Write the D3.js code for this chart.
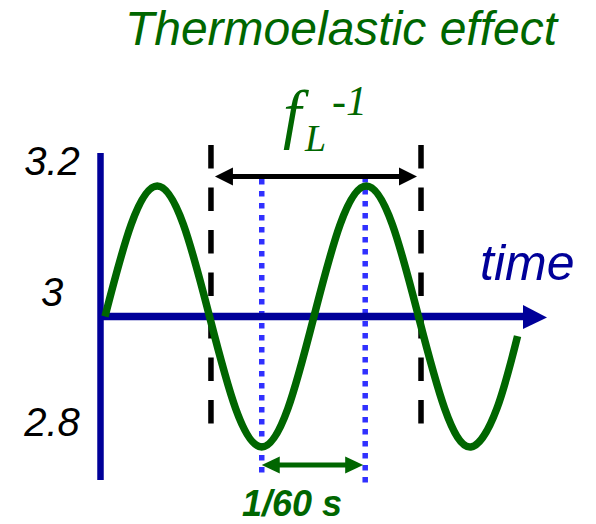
<!DOCTYPE html>
<html>
<head>
<meta charset="utf-8">
<script src="https://cdn.jsdelivr.net/npm/d3@7"></script>
<style>
  html, body { margin: 0; padding: 0; background: #fff; }
  svg { display: block; }
</style>
</head>
<body>
<svg id="chart" width="596" height="524"></svg>
<script>
// ---- data (time in ms, signal value) ----
const timesMs = [0, 4.17, 8.33, 12.5, 16.67, 20.83, 25, 29.17, 33.33, 37.5, 41.67, 45.83, 50, 54.17, 58.33, 62.5, 65.8];
const signal  = [3, 3.141, 3.2, 3.141, 3, 2.859, 2.8, 2.859, 3, 3.141, 3.2, 3.141, 3, 2.859, 2.8, 2.859, 2.97];
const yTickValues = [3.2, 3, 2.8];
const yTickLabels = ["3.2", "3", "2.8"];
const periodMarksMs = [16.9, 50.4];     // dashed lines: one full period f_L^-1
const halfPeriodMarksMs = [25, 41.5];    // dotted lines: trough to peak, 1/60 s
const titleText = "Thermoelastic effect";
const xAxisLabel = "time";
const halfPeriodLabel = "1/60 s";

const green = "#006600", navy = "#000099", dotBlue = "#3030ff";

const svg = d3.select("#chart");
const x = d3.scaleLinear().domain([0, 70]).range([105, 105 + 70 * 6.27]);
const y = d3.scaleLinear().domain([2.8, 3.2]).range([447, 186]);

const fontSans = "'Liberation Sans', Arial, sans-serif";
const fontSerif = "'Liberation Serif', 'Times New Roman', serif";

// title
svg.append("text").attr("x", 341).attr("y", 45).attr("text-anchor", "middle")
  .attr("font-family", fontSans).attr("font-style", "italic").attr("font-size", 48)
  .attr("fill", green).text(titleText);

// dashed period lines
svg.selectAll("line.period").data(periodMarksMs).join("line").attr("class", "period")
  .attr("x1", d => x(d)).attr("x2", d => x(d)).attr("y1", 145).attr("y2", 424)
  .attr("stroke", "#000").attr("stroke-width", 5.5).attr("stroke-dasharray", "23.5 19");

// dotted half-period lines
const dotExt = [[179, 477], [177, 484]];
svg.selectAll("line.half").data(halfPeriodMarksMs).join("line").attr("class", "half")
  .attr("x1", d => x(d)).attr("x2", d => x(d))
  .attr("y1", (d, i) => dotExt[i][0]).attr("y2", (d, i) => dotExt[i][1])
  .attr("stroke", dotBlue).attr("stroke-width", 5.5).attr("stroke-dasharray", "5.5 6.5");

// double arrow helper
function dblArrow(x1, x2, yy, color, lw, hl, hw) {
  const g = svg.append("g");
  g.append("line").attr("x1", x1 + hl - 2).attr("x2", x2 - hl + 2).attr("y1", yy).attr("y2", yy)
    .attr("stroke", color).attr("stroke-width", lw);
  g.append("path").attr("d", `M${x1},${yy} L${x1 + hl},${yy - hw} L${x1 + hl},${yy + hw} Z`).attr("fill", color);
  g.append("path").attr("d", `M${x2},${yy} L${x2 - hl},${yy - hw} L${x2 - hl},${yy + hw} Z`).attr("fill", color);
}
// f_L^-1 arrow between dashed lines
dblArrow(x(periodMarksMs[0]) + 4, x(periodMarksMs[1]) - 4, 176.5, "#000", 5, 18, 9);
// 1/60 s arrow between dotted lines
dblArrow(x(halfPeriodMarksMs[0]), x(halfPeriodMarksMs[1]) - 2, 465, green, 5, 18, 8.5);

// axes
const x0 = x(0) - 4.5;
svg.append("line").attr("x1", x0).attr("x2", x0).attr("y1", 153).attr("y2", 480)
  .attr("stroke", navy).attr("stroke-width", 6.5);
svg.append("line").attr("x1", x0).attr("x2", 526).attr("y1", y(3)).attr("y2", y(3))
  .attr("stroke", navy).attr("stroke-width", 7.5);
svg.append("path").attr("d", `M547,${y(3) + 1} L523,${y(3) - 11.5} L523,${y(3) + 12.5} Z`).attr("fill", navy);

// sine curve
const line = d3.line().x((d, i) => x(timesMs[i])).y(d => y(d)).curve(d3.curveNatural);
svg.append("path").attr("d", line(signal)).attr("fill", "none")
  .attr("stroke", green).attr("stroke-width", 7.5).attr("stroke-linecap", "butt");

// y tick labels (placed above their level)
svg.selectAll("text.ytick").data(yTickValues).join("text").attr("class", "ytick")
  .attr("x", 52).attr("y", d => y(d) - 25).attr("dy", "0.35em").attr("text-anchor", "middle")
  .attr("font-family", fontSans).attr("font-style", "italic").attr("font-size", 40)
  .attr("fill", "#000").text((d, i) => yTickLabels[i]);

// time label
svg.append("text").attr("x", 480).attr("y", 280)
  .attr("font-family", fontSans).attr("font-style", "italic").attr("font-size", 50)
  .attr("fill", navy).text(xAxisLabel);

// f_L^-1 label
svg.append("text").attr("x", 283).attr("y", 136).attr("font-family", fontSerif)
  .attr("font-style", "italic").attr("font-size", 66).attr("fill", green).text("f");
svg.append("text").attr("x", 305).attr("y", 150.5).attr("font-family", fontSerif)
  .attr("font-style", "italic").attr("font-size", 38).attr("fill", green).text("L");
svg.append("text").attr("x", 332).attr("y", 115).attr("font-family", fontSerif)
  .attr("font-style", "italic").attr("font-size", 42).attr("fill", green).text("-1");

// 1/60 s label
svg.append("text").attr("x", 292).attr("y", 516).attr("text-anchor", "middle")
  .attr("font-family", fontSans).attr("font-style", "italic").attr("font-weight", "bold")
  .attr("font-size", 36).attr("fill", green).text(halfPeriodLabel);
</script>
</body>
</html>
